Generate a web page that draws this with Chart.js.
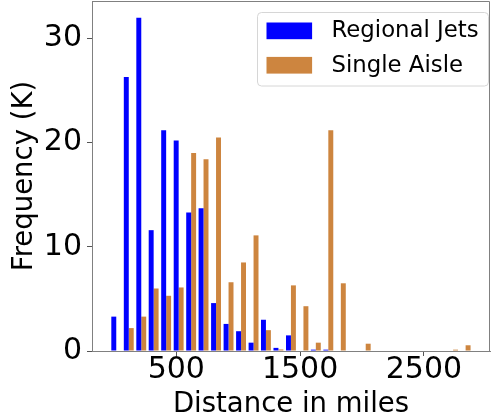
<!DOCTYPE html>
<html>
<head>
<meta charset="utf-8">
<script src="https://cdn.jsdelivr.net/npm/chart.js@4/dist/chart.umd.min.js"></script>
<style>
  html, body { margin: 0; padding: 0; background: #fff; }
  #wrap { width: 494px; height: 419px; }
</style>
</head>
<body>
<div id="wrap"><canvas id="histChart" width="494" height="419"></canvas></div>
<script>
// bin centres (miles), roughly 100-mile bins
const binCenters = [15, 116, 217, 317, 418, 519, 620, 720, 821, 922,
    1023, 1124, 1224, 1325, 1426, 1527, 1627, 1728, 1829, 1930,
    2030, 2131, 2232, 2333, 2434, 2534, 2635, 2736, 2837]

// frequencies in thousands
const regionalJets = [3.3, 26.3, 32.0, 11.6, 21.2, 20.2, 13.3, 13.7, 4.6, 2.6,
    1.9, 0.8, 3.0, 0.3, 1.5, 0, 0.13, 0.13, 0, 0,
    0, 0, 0, 0, 0, 0, 0, 0, 0]
const singleAisle = [0, 2.2, 3.3, 6.0, 5.3, 6.1, 19.0, 18.4, 20.5, 6.6,
    8.5, 11.1, 2.0, 0.15, 6.3, 4.3, 0.8, 21.2, 6.5, 0,
    0.7, 0, 0, 0, 0, 0, 0, 0.13, 0.55]

const xTicks = [500, 1500, 2500]
const yTicks = [0, 10, 20, 30]

const FONT = 'DejaVu Sans'
const spineColor = '#808080'

const toPoints = vals => vals.map((v, i) => ({ x: binCenters[i], y: v }))

// no label overhang padding, the chart area is fixed by hand
const noPad = s => {
    s.paddingTop = 0
    s.paddingBottom = 0
    s.paddingLeft = 0
    s.paddingRight = 0
}

// matplotlib style box legend drawn in the upper right corner
const boxLegend = {
    id: 'boxLegend',
    afterDraw(chart) {
        const ctx = chart.ctx
        const area = chart.chartArea
        const x0 = area.right - 232.5
        const y0 = area.top + 11.5
        ctx.save()
        ctx.beginPath()
        ctx.roundRect(x0, y0, 231, 73.5, 4)
        ctx.fillStyle = 'rgba(255,255,255,0.8)'
        ctx.fill()
        ctx.strokeStyle = '#d6d6d6'
        ctx.lineWidth = 1
        ctx.stroke()
        ctx.font = '22.8px "' + FONT + '"'
        ctx.textBaseline = 'middle'
        chart.data.datasets.forEach((ds, i) => {
            const y = y0 + 10 + i * 34.4
            ctx.fillStyle = ds.backgroundColor
            ctx.fillRect(x0 + 9, y, 45.6, 16.7)
            ctx.fillStyle = '#000'
            ctx.fillText(ds.label, x0 + 74, y + 9)
        })
        ctx.restore()
    }
}

// top and right spines
const frame = {
    id: 'frame',
    afterDatasetsDraw(chart) {
        const ctx = chart.ctx
        const a = chart.chartArea
        ctx.save()
        ctx.strokeStyle = spineColor
        ctx.lineWidth = 1
        ctx.beginPath()
        ctx.moveTo(a.left, a.top + 0.5)
        ctx.lineTo(a.right - 0.5, a.top + 0.5)
        ctx.lineTo(a.right - 0.5, a.bottom)
        ctx.stroke()
        ctx.restore()
    }
}

const config = {
    type: 'bar',
    data: {
        datasets: [
            {
                label: 'Regional Jets',
                data: toPoints(regionalJets),
                backgroundColor: '#0000ff',
                borderWidth: 0
            },
            {
                label: 'Single Aisle',
                data: toPoints(singleAisle),
                backgroundColor: '#cd853f',
                borderWidth: 0
            }
        ]
    },
    options: {
        responsive: false,
        animation: false,
        layout: { padding: { top: 1, right: 4, left: 0, bottom: 0 } },
        datasets: { bar: { categoryPercentage: 0.8, barPercentage: 1.0 } },
        plugins: {
            legend: { display: false },
            tooltip: { enabled: false }
        },
        scales: {
            x: {
                type: 'linear',
                offset: false,
                min: -181,
                max: 3034,
                afterBuildTicks: s => { s.ticks = xTicks.map(v => ({ value: v })) },
                afterFit: s => { s.height = 68; noPad(s) },
                grid: { offset: false, drawOnChartArea: false, tickLength: 5, tickColor: '#555' },
                border: { color: spineColor, width: 1 },
                ticks: {
                    color: '#000',
                    padding: -4,
                    maxRotation: 0,
                    font: { family: FONT, size: 30 },
                    callback: v => String(v)
                },
                title: {
                    display: true,
                    text: 'Distance in miles',
                    color: '#000',
                    font: { family: FONT, size: 27.5 },
                    padding: { top: 0, bottom: -2 }
                }
            },
            y: {
                min: 0,
                max: 33.6,
                afterBuildTicks: s => { s.ticks = yTicks.map(v => ({ value: v })) },
                afterFit: s => { s.width = 92; noPad(s) },
                grid: { drawOnChartArea: false, tickLength: 5, tickColor: '#555' },
                border: { color: spineColor, width: 1 },
                ticks: {
                    color: '#000',
                    padding: 5,
                    font: { family: FONT, size: 30 }
                },
                title: {
                    display: true,
                    text: 'Frequency (K)',
                    color: '#000',
                    font: { family: FONT, size: 27.5 },
                    padding: { top: 8, bottom: 0 }
                }
            }
        }
    },
    plugins: [frame, boxLegend]
}

new Chart(document.getElementById('histChart').getContext('2d'), config)
</script>
</body>
</html>
